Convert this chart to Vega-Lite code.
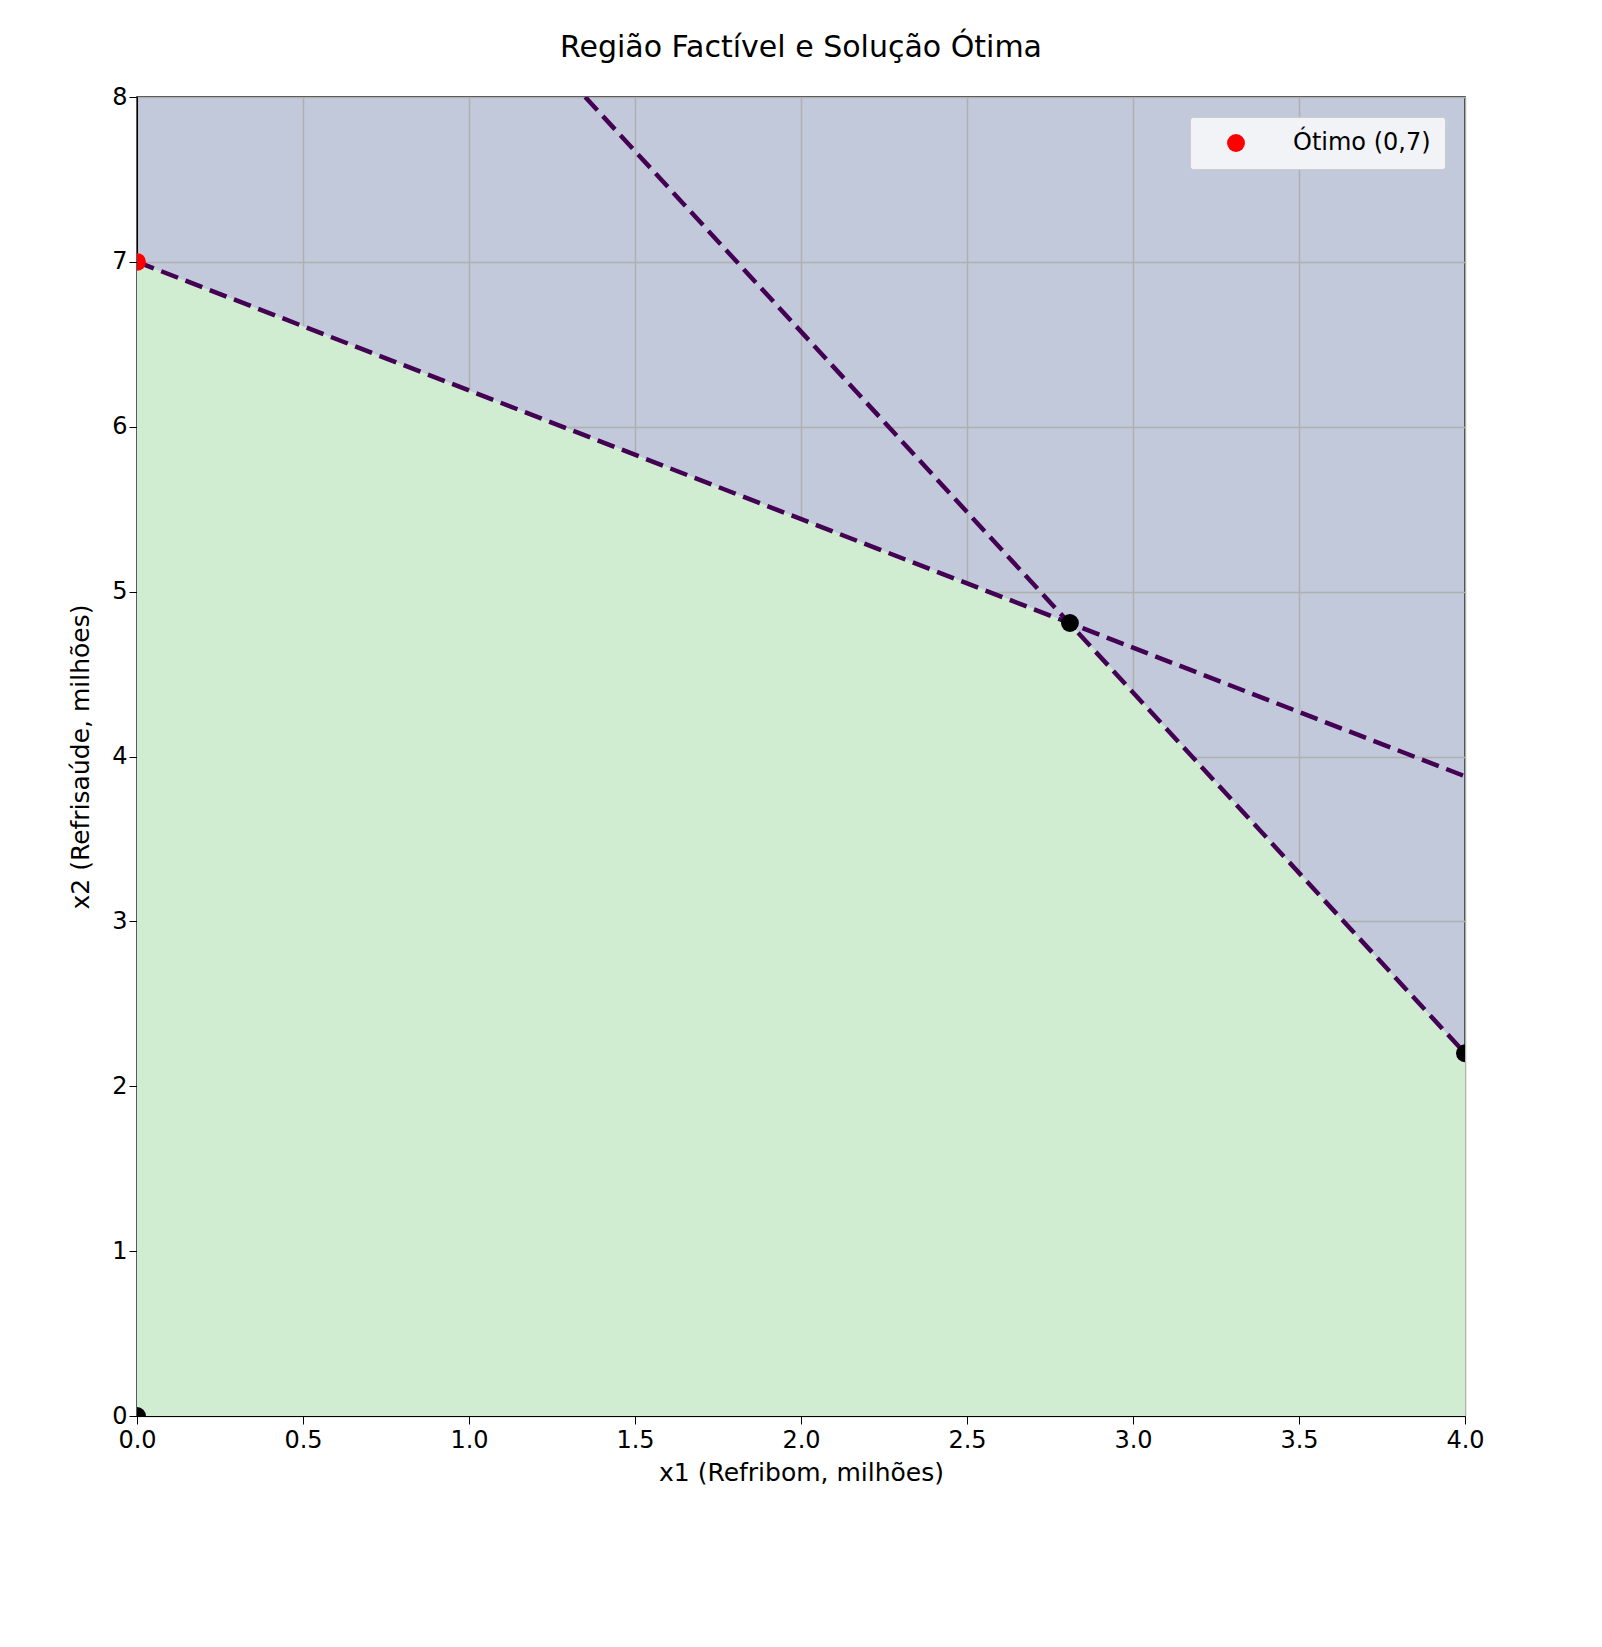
{
  "$schema": "https://vega.github.io/schema/vega-lite/v6.json",
  "width": 1328,
  "height": 1319,
  "autosize": {"type": "none"},
  "padding": {"left": 137, "top": 97, "right": 137, "bottom": 231},
  "background": "white",
  "title": {"text": "Região Factível e Solução Ótima", "fontSize": 30, "font": "DejaVu Sans", "fontWeight": "normal", "offset": 22},
  "datasets": {
    "region": [
      {"x": 0, "y": 7},
      {"x": 2.81, "y": 4.81},
      {"x": 4, "y": 2.2}
    ],
    "lines": [
      {"x": 0, "y": 7, "c": "r1"},
      {"x": 4, "y": 3.88, "c": "r1"},
      {"x": 1.35, "y": 8, "c": "r2"},
      {"x": 4, "y": 2.2, "c": "r2"}
    ],
    "verts": [
      {"x": 0, "y": 0},
      {"x": 2.81, "y": 4.81},
      {"x": 4, "y": 2.2}
    ],
    "opt": [{"x": 0, "y": 7, "label": "Ótimo (0,7)"}]
  },
  "encoding": {
    "x": {"field": "x", "type": "quantitative", "scale": {"domain": [0, 4], "nice": false},
      "title": "x1 (Refribom, milhões)",
      "axis": {"values": [0, 0.5, 1, 1.5, 2, 2.5, 3, 3.5, 4], "format": ".1f", "labelFlush": false, "labelFontSize": 24, "titleFontSize": 25, "labelFont": "DejaVu Sans", "titleFont": "DejaVu Sans", "titleFontWeight": "normal", "labelColor": "black", "titleColor": "black", "gridColor": "#b0b0b0", "gridWidth": 1.5, "domainColor": "black", "tickColor": "black", "tickSize": 8, "labelPadding": 4, "titlePadding": 8}},
    "y": {"field": "y", "type": "quantitative", "scale": {"domain": [0, 8], "nice": false},
      "title": "x2 (Refrisaúde, milhões)",
      "axis": {"values": [0, 1, 2, 3, 4, 5, 6, 7, 8], "labelFlush": false, "labelFontSize": 24, "titleFontSize": 25, "labelFont": "DejaVu Sans", "titleFont": "DejaVu Sans", "titleFontWeight": "normal", "labelColor": "black", "titleColor": "black", "gridColor": "#b0b0b0", "gridWidth": 1.5, "domainColor": "black", "tickColor": "black", "tickSize": 8, "titlePadding": 18}}
  },
  "layer": [
    {"data": {"name": "region"}, "mark": {"type": "area", "color": "#d0ecd1", "opacity": 1}},
    {"data": {"name": "lines"}, "mark": {"type": "line", "color": "#440154", "strokeWidth": 4.5, "strokeDash": [18, 8], "clip": true},
      "encoding": {"detail": {"field": "c"}}},
    {"data": {"name": "verts"}, "mark": {"type": "circle", "color": "black", "size": 320, "opacity": 1, "clip": true}},
    {"data": {"name": "opt"}, "mark": {"type": "circle", "size": 320, "opacity": 1, "clip": true},
      "encoding": {"color": {"field": "label", "type": "nominal", "scale": {"range": ["red"]},
        "legend": {"title": null, "orient": "top-right", "labelFontSize": 24, "labelFont": "DejaVu Sans", "symbolSize": 320, "fillColor": "#f1f3f7", "strokeColor": "#cccccc", "padding": 14, "cornerRadius": 3, "offset": 20, "labelOffset": 45, "symbolOffset": 20}}}}
  ],
  "config": {"view": {"fill": "#c2c9da", "stroke": "black", "strokeWidth": 1.5}}
}
